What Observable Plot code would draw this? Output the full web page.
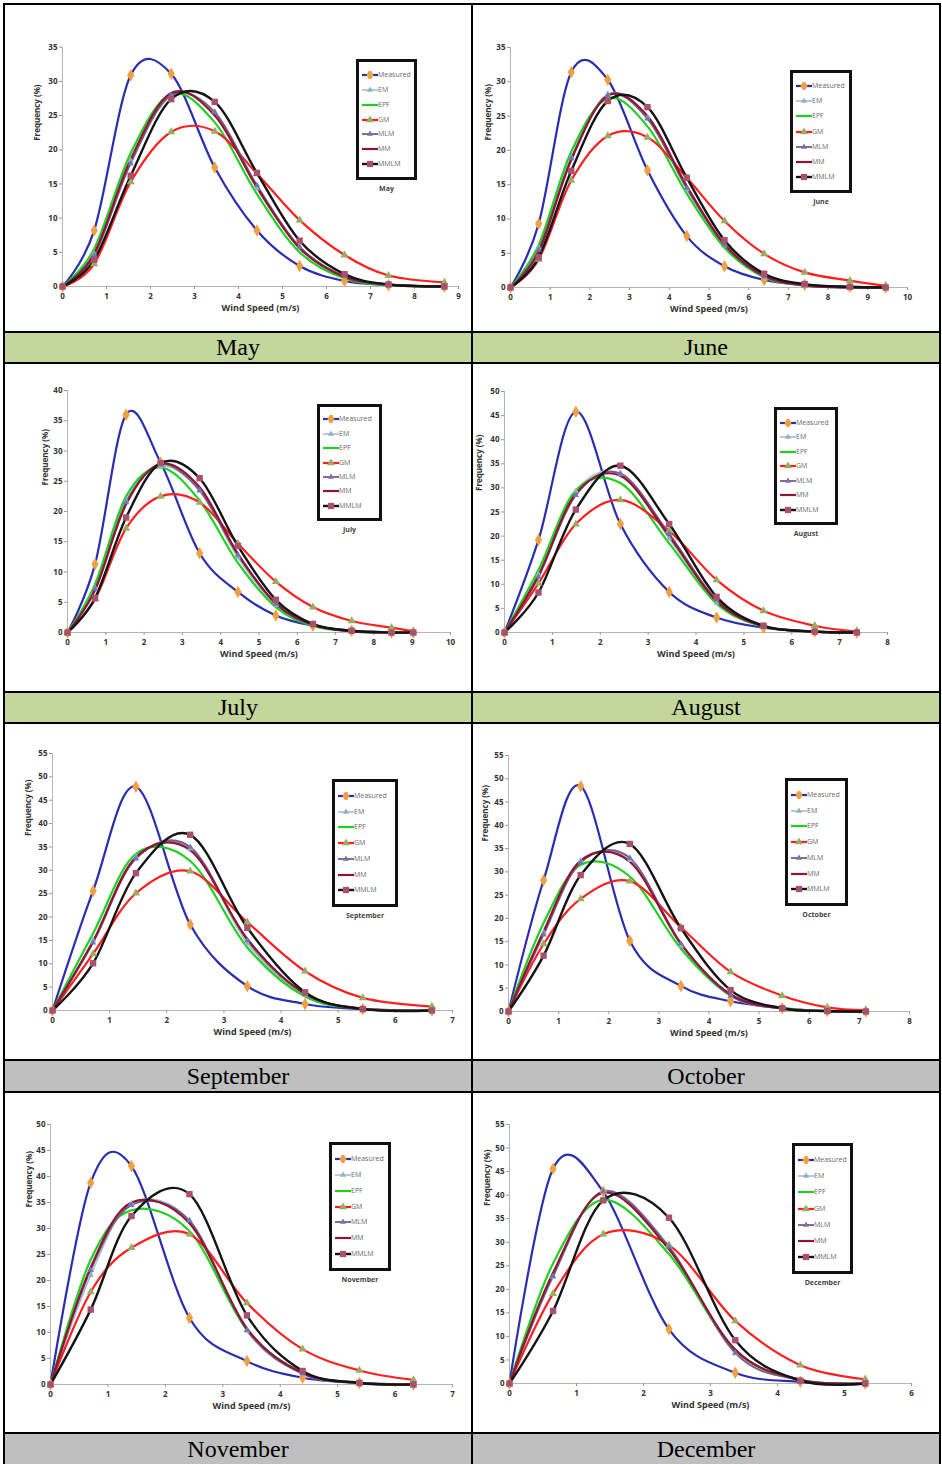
<!DOCTYPE html>
<html><head><meta charset="utf-8">
<script src="https://cdn.jsdelivr.net/npm/d3@7"></script>
<script src="https://cdn.jsdelivr.net/npm/@observablehq/plot@0.6"></script>
<style>
body{margin:0;background:#fff;}
#page{position:relative;width:942px;height:1464px;overflow:hidden;background:#fff;}
.abs{position:absolute;}
.bar{position:absolute;background:#000;}
.lab{position:absolute;font-family:"Liberation Serif","Times New Roman",serif;font-size:24px;color:#000;display:flex;align-items:center;justify-content:center;}
.legend{position:absolute;box-sizing:border-box;border:3px solid #111;background:#fff;display:flex;flex-direction:column;justify-content:space-evenly;padding:2px 3px;}
.lrow{display:flex;align-items:center;font-family:"Open Sans",sans-serif;font-size:7px;color:#6a6a6a;line-height:8px;}
.cap{position:absolute;font-family:"Open Sans",sans-serif;font-size:7px;font-weight:bold;color:#444;text-align:center;}
</style></head>
<body><div id="page"></div>
<script>
// ---------------- DATA ----------------
const months = ["May","June","July","August","September","October","November","December"];
const seriesNames = ["Measured","EM","EPF","GM","MLM","MM","MMLM"];
const xMax = [9,10,10,8,7,8,7,6];
const yMax = [35,35,40,50,55,55,50,55];

const mayX        = [0,0.72,1.55,2.47,3.46,4.42,5.39,6.41,7.41,8.68];
const mayMeasured = [0,8.2,30.9,31.1,17.4,8.2,3.0,0.8,0.2,0];
const mayEM       = [0,4.8,18.4,27.8,25.5,14.3,5.8,1.5,0.3,0];
const mayEPF      = [0,5.5,19.5,28.2,24.0,13.5,5.0,1.2,0.2,0];
const mayGM       = [0,3.3,15.3,22.6,22.7,16.5,9.7,4.6,1.6,0.6];
const mayMLM      = [0,4.5,18.0,28.0,25.5,14.8,5.8,1.5,0.3,0];
const mayMM       = [0,4.8,18.6,28.3,25.0,14.5,5.6,1.4,0.3,0];
const mayMMLM     = [0,3.9,16.2,27.4,27.0,16.6,6.7,1.8,0.3,0];

const junX        = [0,0.71,1.53,2.45,3.45,4.44,5.39,6.39,7.41,8.55,9.45];
const junMeasured = [0,9.3,31.4,30.3,17.1,7.5,3.1,1.1,0.4,0.1,0];
const junEM       = [0,5.8,19.0,28.2,24.8,14.3,6.1,1.5,0.3,0,0];
const junEPF      = [0,6.2,19.8,27.6,23.5,13.7,5.8,1.5,0.3,0,0];
const junGM       = [0,4.1,15.6,22.1,21.9,16.0,9.7,4.9,2.2,1.0,0.25];
const junMLM      = [0,5.5,18.8,28.0,24.6,14.5,6.2,1.6,0.3,0,0];
const junMM       = [0,5.2,18.6,28.0,25.0,14.8,6.3,1.7,0.3,0,0];
const junMMLM     = [0,4.4,17.0,27.2,26.3,16.0,6.9,2.0,0.5,0.1,0];

const julX        = [0,0.72,1.53,2.43,3.45,4.45,5.44,6.41,7.42,8.46,9.03];
const julMeasured = [0,11.3,36.0,28.1,13.1,6.7,2.8,1.1,0.3,0,0];
const julEM       = [0,7.4,21.8,27.5,23.4,12.4,4.5,1.2,0.2,0,0];
const julEPF      = [0,8.0,22.5,27.3,21.8,11.5,4.2,1.1,0.2,0,0];
const julGM       = [0,5.5,17.2,22.5,21.5,14.7,8.4,4.2,1.9,0.8,0.2];
const julMLM      = [0,7.2,21.5,27.8,23.5,12.8,4.7,1.2,0.2,0,0];
const julMM       = [0,7.0,21.2,27.9,24.0,13.0,4.8,1.3,0.2,0,0];
const julMMLM     = [0,5.7,19.0,28.0,25.5,14.3,5.4,1.4,0.3,0,0];

const augX        = [0,0.71,1.49,2.42,3.44,4.43,5.41,6.48,7.36];
const augMeasured = [0,19.2,45.8,22.5,8.4,3.1,1.0,0.2,0];
const augEM       = [0,12.1,29.3,32.9,19.5,6.2,1.3,0.2,0];
const augEPF      = [0,13.0,29.5,31.0,18.5,6.0,1.2,0.2,0];
const augGM       = [0,10.2,22.5,27.5,21.1,10.9,4.5,1.4,0.2];
const augMLM      = [0,11.5,28.5,33.0,20.5,6.8,1.3,0.2,0];
const augMM       = [0,11.8,28.8,32.5,20.0,6.5,1.3,0.2,0];
const augMMLM     = [0,8.3,25.5,34.6,22.5,7.4,1.4,0.2,0];

const sepX        = [0,0.71,1.46,2.41,3.41,4.42,5.43,6.64];
const sepMeasured = [0,25.6,47.9,18.4,5.2,1.4,0.3,0];
const sepEM       = [0,15.0,32.9,34.6,14.4,3.3,0.4,0];
const sepEPF      = [0,16.5,33.5,32.0,13.5,3.0,0.4,0];
const sepGM       = [0,12.1,25.1,29.8,18.9,8.4,2.7,0.85];
const sepMLM      = [0,14.5,32.5,35.0,15.0,3.5,0.4,0];
const sepMM       = [0,14.8,32.8,34.3,15.3,3.6,0.4,0];
const sepMMLM     = [0,10.1,29.4,37.6,17.7,3.9,0.3,0];

const octX        = [0,0.70,1.44,2.42,3.44,4.43,5.46,6.36,7.13];
const octMeasured = [0,28.2,48.4,15.2,5.5,2.2,0.7,0.1,0];
const octEM       = [0,17.0,32.4,32.5,14.1,3.3,0.6,0.1,0];
const octEPF      = [0,19.0,31.5,29.0,13.5,3.5,0.8,0.1,0];
const octGM       = [0,14.5,24.2,28.0,18.1,8.5,3.4,0.9,0.3];
const octMLM      = [0,16.5,32.0,33.0,14.6,3.4,0.6,0.1,0];
const octMM       = [0,17.2,32.4,32.2,14.6,3.7,0.6,0.1,0];
const octMMLM     = [0,12.0,29.3,36.0,17.9,4.6,0.7,0.1,0];

const novX        = [0,0.70,1.41,2.42,3.42,4.39,5.38,6.32];
const novMeasured = [0,38.8,42.0,12.8,4.5,1.3,0.3,0];
const novEM       = [0,21.0,34.8,31.6,10.3,2.0,0.3,0];
const novEPF      = [0,24.0,33.5,29.5,10.5,2.3,0.3,0];
const novGM       = [0,17.8,26.3,28.9,15.7,6.8,2.7,0.9];
const novMLM      = [0,22.0,34.5,31.5,10.5,2.1,0.3,0];
const novMM       = [0,22.5,35.0,31.0,10.8,2.2,0.3,0];
const novMMLM     = [0,14.4,32.4,36.6,13.3,2.6,0.3,0];

const decX        = [0,0.65,1.40,2.38,3.37,4.34,5.31];
const decMeasured = [0,45.6,40.7,11.5,2.3,0.35,0];
const decEM       = [0,22.6,40.9,29.2,6.4,0.7,0];
const decEPF      = [0,25.5,39.0,27.5,7.0,0.8,0];
const decGM       = [0,19.1,31.7,29.4,13.3,3.9,0.9];
const decMLM      = [0,22.8,40.8,29.0,6.5,0.7,0];
const decMM       = [0,23.5,40.5,28.5,7.2,0.8,0];
const decMMLM     = [0,15.4,38.9,35.2,9.2,0.6,0];

const monthX = [mayX,junX,julX,augX,sepX,octX,novX,decX];
const monthSeries = [
  [mayMeasured,mayEM,mayEPF,mayGM,mayMLM,mayMM,mayMMLM],
  [junMeasured,junEM,junEPF,junGM,junMLM,junMM,junMMLM],
  [julMeasured,julEM,julEPF,julGM,julMLM,julMM,julMMLM],
  [augMeasured,augEM,augEPF,augGM,augMLM,augMM,augMMLM],
  [sepMeasured,sepEM,sepEPF,sepGM,sepMLM,sepMM,sepMMLM],
  [octMeasured,octEM,octEPF,octGM,octMLM,octMM,octMMLM],
  [novMeasured,novEM,novEPF,novGM,novMLM,novMM,novMMLM],
  [decMeasured,decEM,decEPF,decGM,decMLM,decMM,decMMLM]
];

// ---------------- STYLE / LAYOUT ----------------
const seriesStyle = {
  Measured:{stroke:"#2a2db0", w:2.2, marker:"diamond", fill:"#f0a040", r:3.8},
  EM:{stroke:"#9fc0cf", w:1.6, marker:"triangle", fill:"#8fb2c4", r:2.3},
  EPF:{stroke:"#1fd01f", w:2.2, marker:null},
  GM:{stroke:"#ff1f1f", w:2.2, marker:"triangle", fill:"#98ad62", r:3.0},
  MLM:{stroke:"#7b5a86", w:1.8, marker:"triangle", fill:"#6f74b4", r:2.3},
  MM:{stroke:"#8e1538", w:2.2, marker:null},
  MMLM:{stroke:"#141414", w:2.4, marker:"square", fill:"#a8506c", r:3.6}
};
const layout = [
  {cell:[5,5,470,331],    frame:[62,458,46.7,286], tdx:-25, tdy:-26, legend:[356,59,417,180]},
  {cell:[473,5,939,331],  frame:[510,907,47,287],  tdx:-22, tdy:-27, legend:[790,70,852,193]},
  {cell:[5,364,470,691],  frame:[67,450,390,632],  tdx:-22, tdy:-26, legend:[317,404,382,521]},
  {cell:[473,364,939,691],frame:[504,887,391,632], tdx:-25, tdy:-21, legend:[774,407,838,525]},
  {cell:[5,724,470,1059], frame:[52,452,753,1010], tdx:-24, tdy:-46, legend:[332,779,398,907]},
  {cell:[473,724,939,1059],frame:[508,909,755,1011],tdx:-23, tdy:-42, legend:[785,778,848,906]},
  {cell:[5,1093,470,1432],frame:[50,452,1124,1384],tdx:-21, tdy:-47, legend:[329,1142,391,1271]},
  {cell:[473,1093,939,1432],frame:[509,911,1124,1383],tdx:-22, tdy:-48, legend:[792,1143,853,1274]}
];
const labelRows = [
  {top:333, h:29, color:"#c3d69b", names:[0,1]},
  {top:693, h:29, color:"#c3d69b", names:[2,3]},
  {top:1061, h:30, color:"#bfbfbf", names:[4,5]},
  {top:1434, h:30, color:"#bfbfbf", names:[6,7]}
];

const page = document.getElementById("page");
function div(cls, st, html) {
  const d = document.createElement("div");
  d.className = cls;
  Object.assign(d.style, st);
  if (html != null) d.innerHTML = html;
  page.appendChild(d);
  return d;
}

// label rows
labelRows.forEach(r => {
  div("lab", {left:"5px", top:r.top+"px", width:"466px", height:r.h+"px", background:r.color}, months[r.names[0]]);
  div("lab", {left:"473px", top:r.top+"px", width:"466px", height:r.h+"px", background:r.color}, months[r.names[1]]);
});

// panels
function makePanel(i) {
  const L = layout[i];
  const [cx0, cy0, cx1, cy1] = L.cell;
  const [fl, fr, ft, fb] = L.frame;
  const xs = monthX[i];
  const marks = [
    Plot.ruleY([0], {stroke:"#b5b5b5", strokeWidth:1}),
    Plot.ruleX([0], {stroke:"#b5b5b5", strokeWidth:1}),
    Plot.axisY({ticks:d3.range(0, yMax[i] + 1, 5), tickFormat:d3.format("d"), tickSize:3, tickPadding:2, stroke:"#999", fill:"#333", label:null}),
    Plot.axisX({ticks:d3.range(0, xMax[i] + 1, 1), tickFormat:d3.format("d"), tickSize:3, tickPadding:4, stroke:"#999", fill:"#333", label:null})
  ];
  const all = [];
  seriesNames.forEach((s, k) => {
    const rows = monthSeries[i][k].map((v, j) => ({series:s, x:xs[j], y:v}));
    all.push(rows);
    const st = seriesStyle[s];
    marks.push(Plot.line(rows, {x:"x", y:"y", stroke:st.stroke, strokeWidth:st.w, curve:"cardinal"}));
  });
  seriesNames.forEach((s, k) => {
    const st = seriesStyle[s];
    if (st.marker) marks.push(Plot.dot(all[k], {x:"x", y:"y", symbol:st.marker, r:st.r, fill:st.fill, stroke:"none"}));
  });
  marks.push(Plot.text([0], {text:() => "Wind Speed (m/s)", frameAnchor:"bottom", dy:24, fontSize:9, fill:"#333"}));
  marks.push(Plot.text([0], {text:() => "Frequency (%)", frameAnchor:"left", dx:L.tdx, dy:L.tdy, rotate:-90, fontSize:8, fill:"#333"}));
  const svg = Plot.plot({
    width: cx1 - cx0, height: cy1 - cy0,
    marginLeft: fl - cx0, marginRight: cx1 - fr, marginTop: ft - cy0, marginBottom: cy1 - fb,
    x:{domain:[0, xMax[i]]}, y:{domain:[0, yMax[i]]},
    style:{fontFamily:"'Open Sans', sans-serif", fontSize:"8px", fontWeight:"bold", background:"#fff", overflow:"visible"},
    marks
  });
  const holder = div("abs", {left:cx0+"px", top:cy0+"px", width:(cx1-cx0)+"px", height:(cy1-cy0)+"px"});
  holder.appendChild(svg);

  // legend
  const [lx0, ly0, lx1, ly1] = L.legend;
  const lg = div("legend", {left:lx0+"px", top:ly0+"px", width:(lx1-lx0)+"px", height:(ly1-ly0)+"px"});
  seriesNames.forEach(s => {
    const st = seriesStyle[s];
    let mk = "";
    if (st.marker) {
      const sym = {diamond:d3.symbolDiamond, triangle:d3.symbolTriangle, square:d3.symbolSquare}[st.marker];
      mk = `<path transform="translate(8,4)" d="${d3.symbol(sym, st.r*st.r*3)()}" fill="${st.fill}"/>`;
    }
    const row = document.createElement("div");
    row.className = "lrow";
    row.innerHTML = `<svg width="16" height="8" style="flex:none"><line x1="0" x2="16" y1="4" y2="4" stroke="${st.stroke}" stroke-width="${Math.max(1.6, st.w)}"/>${mk}</svg><span>${s}</span>`;
    lg.appendChild(row);
  });
  div("cap", {left:(lx0-10)+"px", top:(ly1+4)+"px", width:(lx1-lx0+20)+"px"}, months[i]);
}
for (let i = 0; i < 8; i++) makePanel(i);

// table borders
div("bar", {left:"3px", top:"3px", width:"938px", height:"2px"});
div("bar", {left:"3px", top:"3px", width:"2px", height:"1461px"});
div("bar", {left:"939px", top:"3px", width:"2px", height:"1461px"});
div("bar", {left:"471px", top:"3px", width:"2px", height:"1461px"});
[331, 362, 691, 722, 1059, 1091, 1432].forEach(y => div("bar", {left:"3px", top:y+"px", width:"938px", height:"2px"}));
</script>
</body></html>
